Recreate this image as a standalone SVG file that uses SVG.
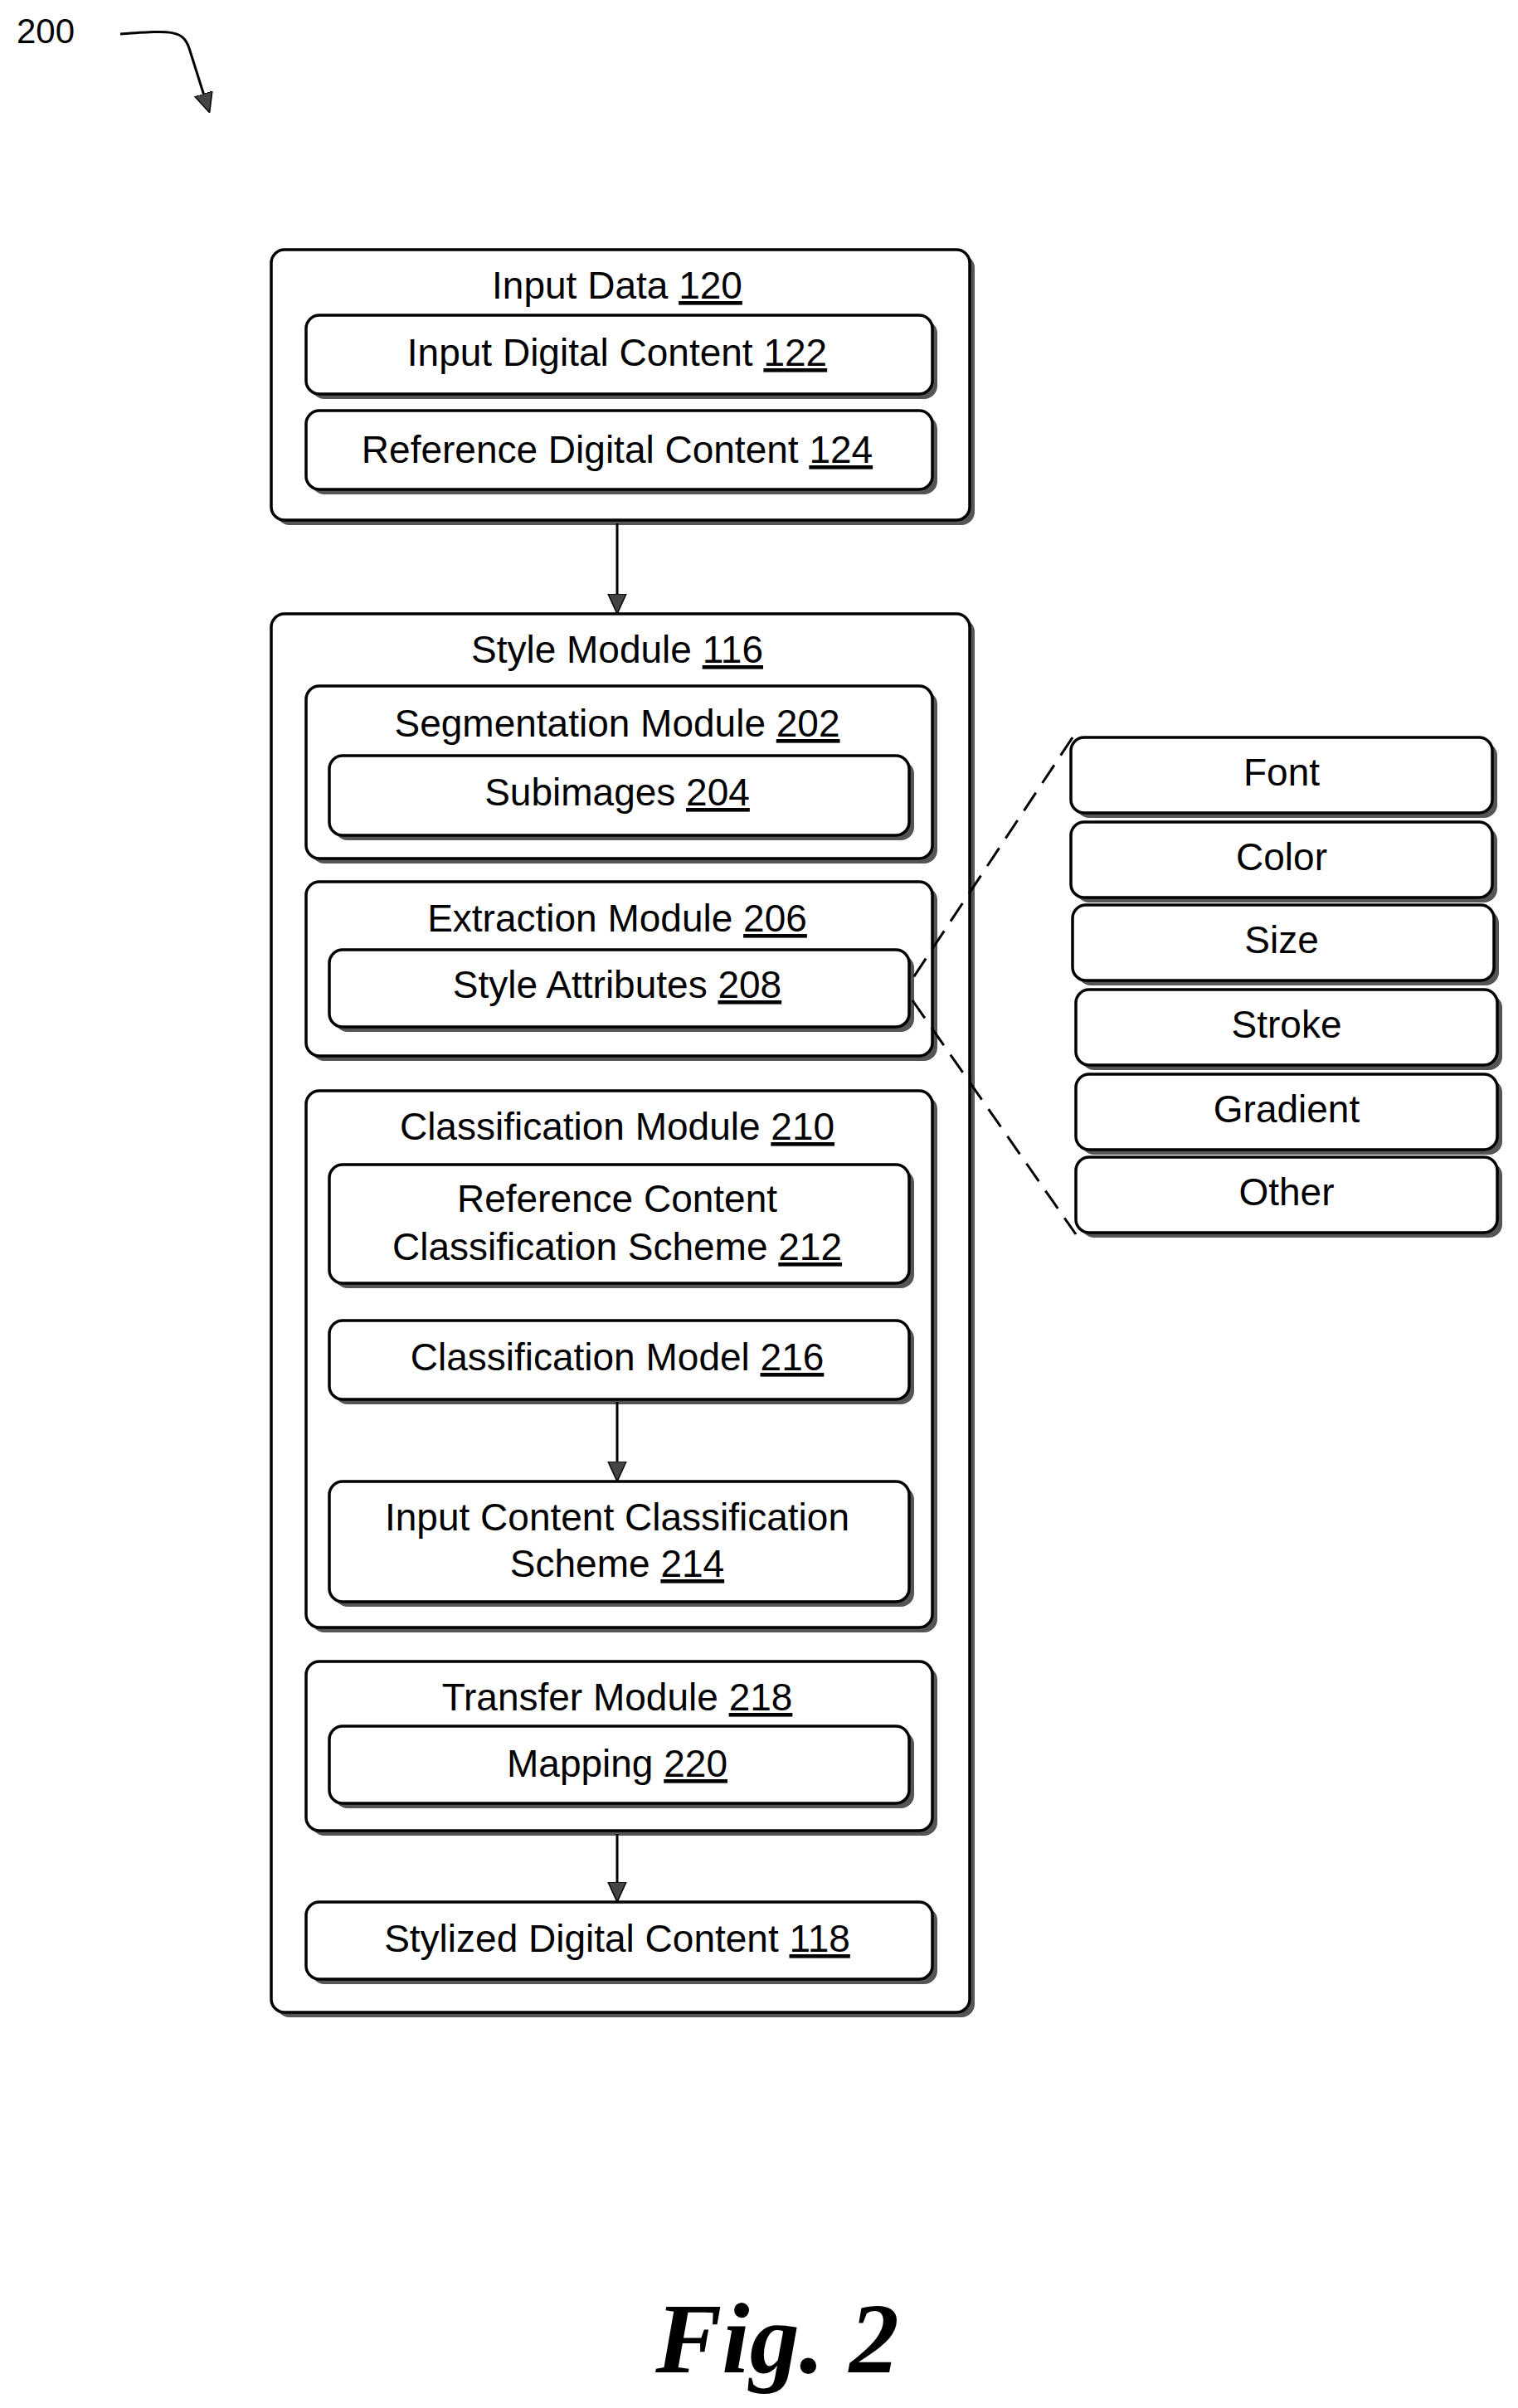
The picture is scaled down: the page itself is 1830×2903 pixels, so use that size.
<svg xmlns="http://www.w3.org/2000/svg" width="1830" height="2903" viewBox="0 0 1830 2903">
<style>
.b{fill:#fff;stroke:#000;stroke-width:3.5}
.s{fill:#555}
text{font-family:"Liberation Sans",Arial,sans-serif;font-size:46px;text-anchor:middle;fill:#000}
.u{text-decoration:underline}
.c{stroke:#000;stroke-width:3;fill:none}
</style>
<defs>
<marker id="ab" viewBox="0 0 24 24" markerWidth="24" markerHeight="30" refX="22" refY="12" orient="auto" markerUnits="userSpaceOnUse"><path d="M0,1 L24,12 L0,23 Z" fill="#444" stroke="#000" stroke-width="1.5"/></marker>
</defs>
<text x="20" y="52" style="text-anchor:start;font-size:42px">200</text>
<g id="input-data"><rect class="s" x="333" y="307" width="842" height="326" rx="16"/><rect class="b" x="327" y="301" width="842" height="326" rx="16"/><text x="744" y="360">Input Data <tspan class="u">120</tspan></text></g>
<g id="n122"><rect class="s" x="375" y="386" width="755" height="95" rx="16"/><rect class="b" x="369" y="380" width="755" height="95" rx="16"/><text x="744" y="441">Input Digital Content <tspan class="u">122</tspan></text></g>
<g id="n124"><rect class="s" x="375" y="501" width="755" height="95" rx="16"/><rect class="b" x="369" y="495" width="755" height="95" rx="16"/><text x="744" y="558">Reference Digital Content <tspan class="u">124</tspan></text></g>
<g id="style-module"><rect class="s" x="333" y="746" width="842" height="1686" rx="16"/><rect class="b" x="327" y="740" width="842" height="1686" rx="16"/><text x="744" y="799">Style Module <tspan class="u">116</tspan></text></g>
<g id="n202"><rect class="s" x="375" y="833" width="755" height="208" rx="16"/><rect class="b" x="369" y="827" width="755" height="208" rx="16"/><text x="744" y="888">Segmentation Module <tspan class="u">202</tspan></text></g>
<g id="n204"><rect class="s" x="403" y="917" width="699" height="96" rx="16"/><rect class="b" x="397" y="911" width="699" height="96" rx="16"/><text x="744" y="971">Subimages <tspan class="u">204</tspan></text></g>
<g id="n206"><rect class="s" x="375" y="1069" width="755" height="210" rx="16"/><rect class="b" x="369" y="1063" width="755" height="210" rx="16"/><text x="744" y="1123">Extraction Module <tspan class="u">206</tspan></text></g>
<g id="n208"><rect class="s" x="403" y="1151" width="699" height="93" rx="16"/><rect class="b" x="397" y="1145" width="699" height="93" rx="16"/><text x="744" y="1203">Style Attributes <tspan class="u">208</tspan></text></g>
<g id="n210"><rect class="s" x="375" y="1321" width="755" height="647" rx="16"/><rect class="b" x="369" y="1315" width="755" height="647" rx="16"/><text x="744" y="1374">Classification Module <tspan class="u">210</tspan></text></g>
<g id="n212"><rect class="s" x="403" y="1410" width="699" height="143" rx="16"/><rect class="b" x="397" y="1404" width="699" height="143" rx="16"/><text x="744" y="1461">Reference Content</text><text x="744" y="1519">Classification Scheme <tspan class="u">212</tspan></text></g>
<g id="n216"><rect class="s" x="403" y="1598" width="699" height="95" rx="16"/><rect class="b" x="397" y="1592" width="699" height="95" rx="16"/><text x="744" y="1652">Classification Model <tspan class="u">216</tspan></text></g>
<g id="n214"><rect class="s" x="403" y="1792" width="699" height="145" rx="16"/><rect class="b" x="397" y="1786" width="699" height="145" rx="16"/><text x="744" y="1845">Input Content Classification</text><text x="744" y="1901">Scheme <tspan class="u">214</tspan></text></g>
<g id="n218"><rect class="s" x="375" y="2009" width="755" height="204" rx="16"/><rect class="b" x="369" y="2003" width="755" height="204" rx="16"/><text x="744" y="2062">Transfer Module <tspan class="u">218</tspan></text></g>
<g id="n220"><rect class="s" x="403" y="2087" width="699" height="93" rx="16"/><rect class="b" x="397" y="2081" width="699" height="93" rx="16"/><text x="744" y="2142">Mapping <tspan class="u">220</tspan></text></g>
<g id="n118"><rect class="s" x="375" y="2299" width="755" height="93" rx="16"/><rect class="b" x="369" y="2293" width="755" height="93" rx="16"/><text x="744" y="2353">Stylized Digital Content <tspan class="u">118</tspan></text></g>
<g id="font"><rect class="s" x="1297" y="895" width="508" height="91" rx="16"/><rect class="b" x="1291" y="889" width="508" height="91" rx="16"/><text x="1545" y="947">Font</text></g>
<g id="color"><rect class="s" x="1297" y="997" width="508" height="91" rx="16"/><rect class="b" x="1291" y="991" width="508" height="91" rx="16"/><text x="1545" y="1049">Color</text></g>
<g id="size"><rect class="s" x="1299" y="1097" width="508" height="91" rx="16"/><rect class="b" x="1293" y="1091" width="508" height="91" rx="16"/><text x="1545" y="1149">Size</text></g>
<g id="stroke"><rect class="s" x="1303" y="1199" width="508" height="91" rx="16"/><rect class="b" x="1297" y="1193" width="508" height="91" rx="16"/><text x="1551" y="1251">Stroke</text></g>
<g id="gradient"><rect class="s" x="1303" y="1301" width="508" height="91" rx="16"/><rect class="b" x="1297" y="1295" width="508" height="91" rx="16"/><text x="1551" y="1353">Gradient</text></g>
<g id="other"><rect class="s" x="1303" y="1401" width="508" height="91" rx="16"/><rect class="b" x="1297" y="1395" width="508" height="91" rx="16"/><text x="1551" y="1453">Other</text></g>
<g id="connectors">
<path class="c" d="M145,41 C205,37 220,35 228,58 L252,134" marker-end="url(#ab)"/>
<line class="c" x1="744" y1="631" x2="744" y2="738" marker-end="url(#ab)"/>
<line class="c" x1="744" y1="1690" x2="744" y2="1784" marker-end="url(#ab)"/>
<line class="c" x1="744" y1="2211" x2="744" y2="2291" marker-end="url(#ab)"/>
<path d="M1293,889 L1100,1180 M1100,1206 L1297,1488" stroke="#000" stroke-width="3" fill="none" stroke-dasharray="26,14"/>
</g>
<text x="937" y="2860" style="font-family:'Liberation Serif',serif;font-style:italic;font-weight:bold;font-size:120px">Fig. 2</text>
</svg>
